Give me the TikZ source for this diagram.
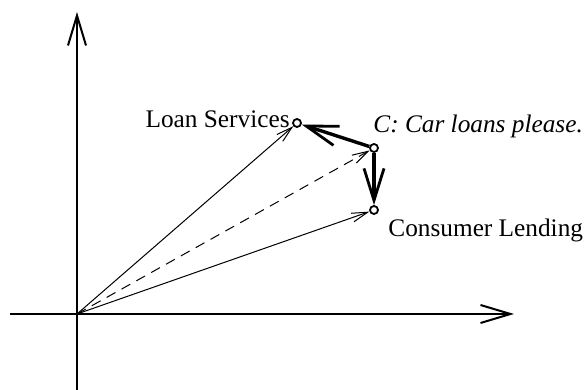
\documentclass[tikz,border=0pt]{standalone}
\usepackage{fontspec}
\setmainfont{Liberation Serif}
\usetikzlibrary{arrows.meta}

\begin{document}
\begin{tikzpicture}[x=0.5pt,y=-0.5pt,
    pt/.style={circle,draw,fill=white,line width=0.9pt,inner sep=0pt,minimum size=4pt},
    lbl/.style={font=\fontsize{12.65pt}{15pt}\selectfont,inner sep=0pt},
    axis/.style={line width=1pt,-{Straight Barb[length=15pt,width=9pt,line width=1pt]}},
    vec/.style={line width=0.5pt,-{Straight Barb[length=8pt,width=4.5pt,line width=0.5pt]}},
    move/.style={line width=1.7pt,-{Straight Barb[length=16pt,width=10pt,line width=1.4pt]}}]
  \useasboundingbox (0,0) rectangle (585,390);
  \coordinate (o) at (77,314);
  \coordinate (xl) at (10,314);
  \coordinate (xr) at (514,314);
  \coordinate (yb) at (77,390);
  \coordinate (yt) at (77,12);
  \node[pt] (ls) at (297,123) {};
  \node[pt] (c) at (374,148) {};
  \node[pt] (cl) at (374,210) {};
  \draw[axis] (xl)--(xr);
  \draw[axis] (yb)--(yt);
  \draw[vec] (o)--(ls);
  \draw[vec] (o)--(cl);
  \draw[vec,dash pattern=on 5pt off 3.5pt] (o)--(c);
  \draw[move] (c)--(ls);
  \draw[move] (c)--(cl);
  \node[lbl,anchor=base east] (lsl) at (290,128) {Loan Services};
  \node[lbl,anchor=base west] (cq) at (373,133) {\itshape C: Car loans please.};
  \node[lbl,anchor=base west] (cll) at (388,237) {Consumer Lending};
\end{tikzpicture}
\end{document}
